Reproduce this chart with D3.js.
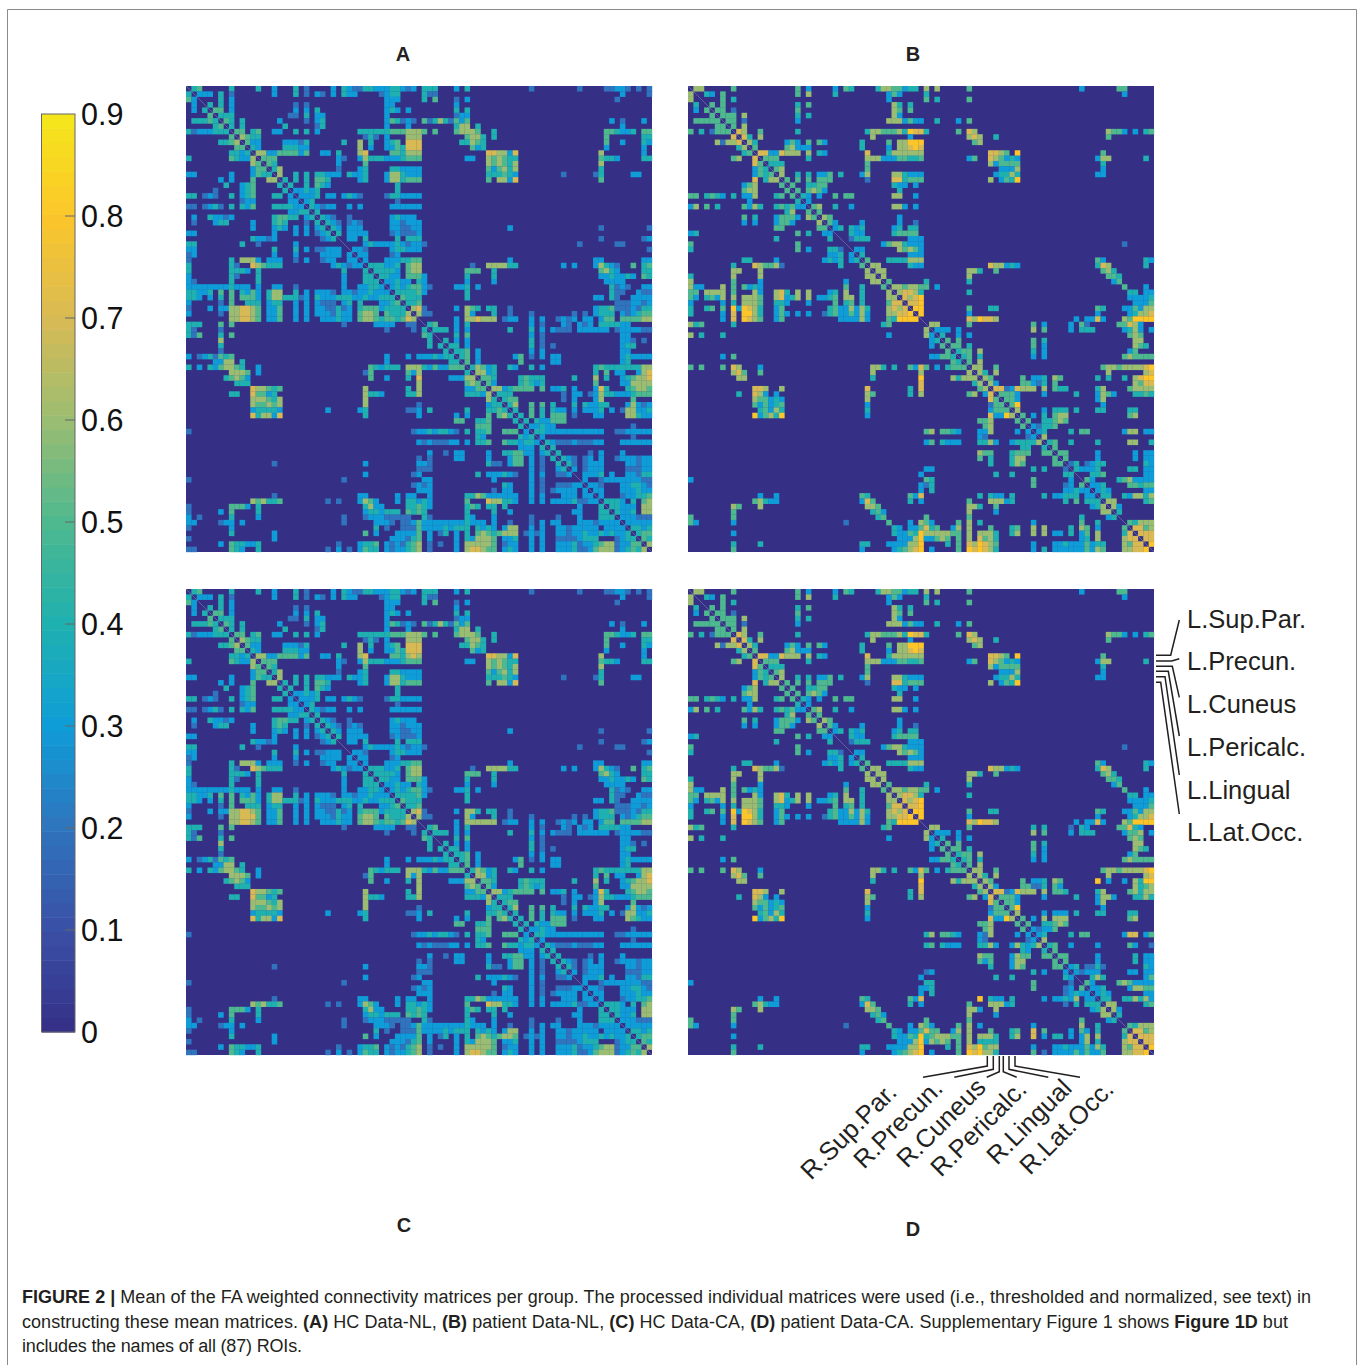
<!DOCTYPE html>
<html>
<head>
<meta charset="utf-8">
<script src="https://cdn.jsdelivr.net/npm/d3@7"></script>
<style>
body { margin: 0; background: #fff; }
text { font-family: "Liberation Sans", Arial, sans-serif; fill: #231f20; }
</style>
</head>
<body>
<svg id="fig" width="1358" height="1365"></svg>
<script>
// number of ROIs
const N = 87;

// upper triangle of the mean matrices, one string per row
// "col:digits" = run of cells starting at col, each digit is FA x 10
const rowsA = [
"1:45 8:4 13:4 16:3 20:4 22:2 27:3 29:4 30:3 31:2 32:2 33:44333 38:44 40:323 44:444 50:3 52:4 64:2 73:2 78:2233 82:2 84:2 86:2",
"2:333 6:4 8:2 16:3 20:4 22:2 24:32 27:3 29:433 36:23 38:44 44:422 81:3 86:2",
"6:4 8:3 37:333 44:4 46:5 50:2 52:3 80:2",
"4:4 6:4 8:3 20:2 22:2 37:33 50:3",
"5:55 8:3 20:3 22:3 24:4 37:3 38:4 39:3 41:3 50:4 52:4",
"6:444 19:22 22:4 24:33 37:3 50:233",
"7:54 10:4 17:3 22:2 24:34 37:35423 42:2 44:5246 48:4 49:2 50:535 79:3 81:2 85:3",
"8:4 10:4 18:4 24:24 37:3 41:3 50:466 54:4 81:3",
"9:55 12:45 16:33 20:4 22:4 24:3 32:444444555 41:666 44:5 46:5 50:56665 57:4 78:554334 85:55",
"10:65 12:44 33:242 37:3 41:666 52:5664 57:4 78:5 85:44",
"11:5 12:33 18:33324 29:4 32:6 34:4 37:3 38:45 41:777 51:44654 78:5 81:3 85:43",
"12:43 18:44433 32:6 34:3 37:3 38:354 41:777 53:534 78:3 85:3",
"13:66335555 21:3 22:5 25:33 28:4 32:67 38:554666 56:776637 77:6 85:3",
"14:555 28:32 32:3 33:64443334 41:555 52:33 56:656544 77:5443 85:44",
"15:54 28:3 33:5 56:656546 77:6",
"16:46 28:2 32:34 38:443333 56:535646 77:4",
"17:6 20:4 22:4 24:44333 30:4 31:334 37:3664333 56:444543 70:2 76:24 83:33",
"18:4 20:4 22:4 24:554 32:34 37:3 38:664555 56:5 58:6637 77:5",
"19:4 22:4 24:543 39:4",
"20:33434 39:4",
"21:3334 26:33 29:3432 37:2443333",
"22:34 39:2",
"23:43233 30:3 32:3 38:333333",
"24:4",
"25:432 30:2 38:34333",
"26:432 30:232 38:332333",
"27:43 30:333 38:332233 60:3 77:2 86:2",
"28:4 30:3333 38:232223",
"30:33 33:4 39:4 41:444 77:2 85:23",
"33:34333343233 44:2 73:2 80:22",
"31:332 38:344333 86:2",
"32:33 38:23",
"33:3 37:3334455 60:3 76:33 85:33",
"34:444334 41:566 53:2 56:666644 70:3 72:3 76:36432 83:5 85:45",
"35:44443 41:566 52:555 57:4 77:5643 85:44",
"36:4433 41:555 44:3 52:4 57:4 77:3343343 85:54",
"37:33433 43:4 44:3 52:3 57:3 78:3333",
"38:343455 44:32 50:334 54:3 79:4232 85:33",
"39:44445 44:3 52:4 79:422 84:322",
"40:5444 52:4 76:33 79:42 83:3333",
"41:445 80:2223323",
"42:67 44:2 50:3 52:654 56:44 60:2 76:34452223244",
"43:6 44:22 52:63 57:4 60:2 64:2 72:2 74:2 76:3444 81:323455",
"50:3 52:667666 59:233 64:3 66:3 69:2323 74:33 77:355 81:555566",
"45:45 50:3 52:4 64:3 66:2 70:3 71:2 73:323 77:444433",
"46:444 50:3 52:3 60:4 64:4 66:3 68:3222 73:333333 80:2333322",
"50:4 52:5 64:3 66:2 81:33",
"48:4 50:3 52:3 64:4 66:2 81:332 85:2",
"49:44 52:3 64:4 66:2 68:2 81:344",
"50:445 54:3 64:3 66:3 81:33",
"51:45 54:3 61:35 64:2 66:3 68:33 81:343333",
"52:5 54:3 62:5 68:33 81:34",
"53:46534 60:43 64:4 66:3 76:45444444466",
"54:6634 76:4 78:5 80:33 84:367",
"55:554 62:45444 72:4 76:6 78:4 81:345667",
"56:53 62:45434 76:5 81:336666",
"57:66345555 66:5 68:334 72:3 76:374 82:45665",
"58:444 70:2 72:33 75:236443334555",
"59:455 70:2 72:3 76:36 83:5",
"60:46 64:5 66:5 68:4 72:4 74:43344 82:36323",
"61:4 64:5 66:4 68:433 72:3 74:3334 79:3 81:266334",
"62:4 64:5 66:4 68:555 72:2 76:33 82:66433",
"63:4 65:4 66:33 68:555",
"64:33433 83:2",
"65:4 66:43 68:3333333333 80:2233333",
"66:3 83:2",
"67:43222322233 81:333333",
"68:4",
"69:4 75:2 77:3 81:3",
"70:432 74:23 77:3 80:2333233",
"71:42 74:2333 82:33233",
"72:3 74:2333 82:22233",
"74:3334 79:3 82:33244",
"74:3 77:2 78:333333 84:322",
"75:33 77:2 81:334432",
"76:33 81:333433",
"77:3 81:233445",
"78:4443 83:4 85:56",
"79:4433 83:3 85:66",
"80:4334 85:66",
"81:333 84:222",
"82:33333",
"83:44 85:34",
"84:455",
"85:54",
"86:6"
];

const rowsB = [
"1:66 8:5 20:5 22:3 27:3 29:54 35:466553 41:44 44:6 46:6 52:5 73:3 80:55",
"3:43 6:5 20:5 22:6 27:4 37:353 44:4 81:3",
"6:5 8:4 37:3 44:5 46:4 52:5",
"4:5 6:5 20:4 22:5 38:64 41:4",
"5:55 8:2 20:5 38:65 41:5",
"6:555 10:6 20:4 22:4 38:63",
"7:55 10:2 20:3 37:6663533 46:4 50:3 52:5",
"8:5 10:6",
"9:76 13:5 20:4 33:46655564877 44:4 50:5 52:76 78:6553 83:3 85:45",
"10:74 13:6 34:6 41:3 52:676 57:4 78:5",
"11:64 18:353 22:5 24:53 32:4 37:5 39:66888 53:56",
"12:5 18:56333 32:4 37:3 39:66787",
"13:77337666 22:6 24:43 33:7 37:4666666 56:7765 61:8 77:5",
"14:555 22:4 33:66633355445 52:35 56:765343 76:366 85:4",
"15:444 33:5 56:635555 77:4",
"16:56 33:5 58:3336 77:3",
"17:6 20:4 22:4 24:335 28:4 32:36 38:664333 57:34464 76:33",
"18:5 20:5 22:5 24:555 33:2 38:774555 56:6 58:3548",
"19:5 22:4455 38:433 42:3",
"20:5 22:5653 39:4",
"21:43 24:3 27:5 29:55 38:66 42:3",
"22:3",
"23:56 27:4 30:3 38:663 42:3",
"24:5",
"25:65 39:3",
"26:53 32:3 39:3 42:2",
"27:34 30:434 38:34 41:44",
"30:433 38:45555",
"30:2444 41:333",
"36:35664333 81:2",
"31:33 39:6565 43:3",
"32:4 41:33 43:3",
"33:5 37:4444666 76:53 85:43",
"34:66 41:433 56:766343 76:476 85:4",
"35:66 52:664 57:5 77:564",
"36:6 52:6 78:554",
"37:5 44:4 52:4 79:35",
"38:665665 44:5 46:3 81:5 85:3",
"39:67764 52:4 82:44 85:33",
"40:7678 82:33334",
"41:778 83:3335",
"42:88 52:5 56:44 76:54 81:335366",
"43:8 52:3 76:3 82:34667",
"52:768776 72:3 74:3373 81:658888",
"45:66 52:5 64:5 66:3 71:3 73:52 80:55763",
"46:333 50:3 64:6 66:5 71:3 73:444 81:3463 86:3",
"47:4 50:3 52:3 82:565",
"48:5 50:5 64:5 66:4 83:66",
"49:55 52:4 64:5 66:3 83:65 85:4",
"50:455 54:6 64:4 66:3 82:35",
"51:45 54:4 64:3 66:3 81:565555",
"52:5 54:6",
"53:66 57:5 77:5665666678",
"54:64 57:6 78:6 85:67",
"55:65 62:5 64:334 68:65 76:4 78:4 81:4 83:6788",
"56:63 62:55324 68:5 83:6577",
"57:77237666 66:6 68:544 76:46 82:56666",
"58:5553 66:3 72:4 76:3653 83:4454",
"59:553 76:36",
"60:58 77:3",
"61:6 66:3 68:444 72:4 76:44 82:44",
"62:5 64:3 66:4 68:566 82:56",
"63:5 66:44 68:565",
"64:32445",
"65:3 66:4 71:4 73:55 81:366 85:33",
"66:6",
"67:45 71:4 76:4 82:66 86:4",
"68:5",
"69:55 76:3 83:3 85:33",
"70:5 76:3 83:3 85:33",
"71:24 74:2344 85:43",
"72:4 73:3334 82:44 85:33",
"75:445 85:33",
"74:53 80:4563333",
"75:334 82:55455",
"76:343 85:33",
"77:44 81:4366 85:46",
"78:66 85:45",
"79:63",
"80:4",
"",
"82:54666",
"83:7756",
"84:777",
"85:77",
"86:8"
];

// cells where C and D read differently from A and B: [row, col, digit]
const diffC = [[41,53,6],[43,54,6],[12,42,7],[61,83,5]];
const diffD = [
[44,64,4],[44,66,4],[44,71,2],[44,73,4],[44,74,3],[44,82,7],[44,83,4],
[45,82,5],[45,83,5],[45,84,6],[54,76,8],[54,78,3],[54,81,3],[54,84,4],
[55,64,2],[55,65,2],[55,69,3],[55,84,4],[55,85,5],[55,86,6],[56,69,5],
[56,84,4],[57,78,6],[57,85,6],[60,68,3],[60,69,3],[60,70,3],[61,66,6],
[61,68,6],[61,83,6],[63,66,3],[63,67,3],[64,82,7],[64,83,7],[64,86,5],
[66,71,3],[66,76,3],[66,82,5],[66,83,3],[66,86,2],[68,83,4],[69,83,4],
[70,71,3],[70,75,2],[70,77,2],[71,72,3],[71,73,2],[71,76,3],[71,82,3],
[71,83,3],[72,76,6],[72,77,4],[72,86,5],[73,80,5],[73,81,6],[73,82,5],
[74,82,3],[74,83,6],[74,84,6],[76,82,4],[76,84,4],[76,85,6],[76,86,3]
];

const panelLabels = ["A", "B", "C", "D"];
const colorTicks = [0, 0.1, 0.2, 0.3, 0.4, 0.5, 0.6, 0.7, 0.8, 0.9];
const leftRois = ["L.Sup.Par.", "L.Precun.", "L.Cuneus", "L.Pericalc.", "L.Lingual", "L.Lat.Occ."];
const bottomRois = ["R.Sup.Par.", "R.Precun.", "R.Cuneus", "R.Pericalc.", "R.Lingual", "R.Lat.Occ."];

const SIZE = 466;
const svg = d3.select("#fig");

// frame round the figure
svg.append("path")
  .attr("d", "M7.5,1365V9.5H1356.5V1365")
  .attr("fill", "none")
  .attr("stroke", "#8a8a8a")
  .attr("stroke-width", 1);

// parula as it comes out in the printed figure
const color = d3.scaleLinear()
  .domain(colorTicks)
  .range(["#352f86", "#3a50a6", "#2f74bd", "#0f9dd8", "#1fb1b0", "#4eb88f", "#9bbd72", "#d8ba54", "#fcc62a", "#f5e71b"]);

// turn the row strings into a list of cells, both triangles
function cellsFrom(rows, diff) {
  const m = new Map();
  rows.forEach((s, r) => {
    if (!s) return;
    s.split(" ").forEach(run => {
      const [start, digits] = run.split(":");
      digits.split("").forEach((d, i) => m.set(r + "_" + (+start + i), +d / 10));
    });
  });
  diff.forEach(d => m.set(d[0] + "_" + d[1], d[2] / 10));
  const cells = [];
  m.forEach((v, k) => {
    const [r, c] = k.split("_").map(Number);
    cells.push({ r, c, v }, { r: c, c: r, v });
  });
  return cells;
}

const band = d3.scaleBand().domain(d3.range(N)).range([0, SIZE]);

const panels = [
  { x: 186, y: 86, cells: cellsFrom(rowsA, []) },
  { x: 688, y: 86, cells: cellsFrom(rowsB, []) },
  { x: 186, y: 589, cells: cellsFrom(rowsA, diffC) },
  { x: 688, y: 589, cells: cellsFrom(rowsB, diffD) }
];

panels.forEach(p => {
  const g = svg.append("g").attr("transform", `translate(${p.x},${p.y})`);
  g.append("rect")
    .attr("width", SIZE)
    .attr("height", SIZE)
    .attr("fill", color(0));
  g.selectAll(".cell")
    .data(p.cells)
    .enter()
    .append("rect")
    .attr("class", "cell")
    .attr("x", d => band(d.c))
    .attr("y", d => band(d.r))
    .attr("width", band.bandwidth() + 0.2)
    .attr("height", band.bandwidth() + 0.2)
    .attr("fill", d => color(d.v));
  // the zero diagonal prints as a faint line
  g.append("line")
    .attr("x1", band(0))
    .attr("y1", band(0))
    .attr("x2", SIZE)
    .attr("y2", SIZE)
    .attr("stroke", "#7a78b4")
    .attr("stroke-width", 0.9)
    .attr("opacity", 0.75);
});

// panel letters
const letterPos = [[403, 61], [913, 61], [404, 1232], [913, 1236]];
svg.selectAll(".letter")
  .data(panelLabels)
  .enter()
  .append("text")
  .attr("class", "letter")
  .attr("x", (d, i) => letterPos[i][0])
  .attr("y", (d, i) => letterPos[i][1])
  .attr("text-anchor", "middle")
  .style("font-size", "20px")
  .style("font-weight", "bold")
  .text(d => d);

// colour bar, 64 steps like the matlab colormap
const barY = d3.scaleLinear().domain([0, 0.9]).range([1032, 114]);
const steps = d3.range(64).map(i => i / 64 * 0.9);
const bar = svg.append("g");
bar.selectAll("rect")
  .data(steps)
  .enter()
  .append("rect")
  .attr("x", 42)
  .attr("width", 33)
  .attr("y", d => barY(d + 0.9 / 64))
  .attr("height", 918 / 64 + 0.5)
  .attr("fill", d => color(d + 0.9 / 128));
bar.append("rect")
  .attr("x", 41.5)
  .attr("y", 114)
  .attr("width", 33.5)
  .attr("height", 918)
  .attr("fill", "none")
  .attr("stroke", "#666")
  .attr("stroke-width", 1);
bar.selectAll(".tick")
  .data(colorTicks.slice(1, -1))
  .enter()
  .append("line")
  .attr("class", "tick")
  .attr("x1", 65)
  .attr("x2", 75)
  .attr("y1", d => barY(d))
  .attr("y2", d => barY(d))
  .attr("stroke", "#666");
bar.selectAll(".lab")
  .data(colorTicks)
  .enter()
  .append("text")
  .attr("class", "lab")
  .attr("x", 81)
  .attr("y", d => barY(d) + 11)
  .style("font-size", "30.5px")
  .style("fill", "#111")
  .text(d => d);

// ROI labels right of panel D
const leftY = [628, 670, 713, 756, 799, 841];
svg.selectAll(".lroi")
  .data(leftRois)
  .enter()
  .append("text")
  .attr("class", "lroi")
  .attr("x", 1187)
  .attr("y", (d, i) => leftY[i])
  .style("font-size", "25.5px")
  .text(d => d);

const leftLeaders = [
  [[1156, 655.3], [1170.7, 655.3], [1179.3, 620]],
  [[1156, 661], [1171.7, 661], [1179.3, 658.7]],
  [[1156, 666.3], [1172.3, 666.3], [1179.3, 697.3]],
  [[1156, 671.3], [1168.3, 671.3], [1179.3, 736]],
  [[1156, 676.7], [1165, 676.7], [1179.3, 775]],
  [[1156, 682.3], [1160.7, 682.3], [1179.3, 814]]
];

// ROI labels under panel D
const bottomPos = [[811, 1181], [864, 1170], [907, 1169], [941, 1178], [997, 1166], [1030, 1176]];
svg.selectAll(".broi")
  .data(bottomRois)
  .enter()
  .append("text")
  .attr("class", "broi")
  .attr("transform", (d, i) => `translate(${bottomPos[i][0]},${bottomPos[i][1]}) rotate(-45)`)
  .style("font-size", "25.5px")
  .text(d => d);

const bottomLeaders = [
  [[987.3, 1056], [987.3, 1066], [923, 1077.3]],
  [[993.3, 1056], [993.3, 1069.3], [954.3, 1077.3]],
  [[999.3, 1056], [999.3, 1071.7], [986.7, 1077.3]],
  [[1003.3, 1056], [1003.3, 1071.7], [1016.7, 1077.3]],
  [[1009, 1056], [1009, 1069.3], [1048.3, 1077.3]],
  [[1015, 1056], [1015, 1066], [1080, 1077.3]]
];

svg.selectAll(".leader")
  .data(leftLeaders.concat(bottomLeaders))
  .enter()
  .append("path")
  .attr("class", "leader")
  .attr("d", d3.line())
  .attr("fill", "none")
  .attr("stroke", "#231f20")
  .attr("stroke-width", 1.5);

// caption, bold runs flagged with 1
const captionLines = [
  { y: 1303, w: 1289, parts: [["FIGURE 2 |", 1], [" Mean of the FA weighted connectivity matrices per group. The processed individual matrices were used (i.e., thresholded and normalized, see text) in", 0]] },
  { y: 1328, w: 1266, parts: [["constructing these mean matrices. ", 0], ["(A)", 1], [" HC Data-NL, ", 0], ["(B)", 1], [" patient Data-NL, ", 0], ["(C)", 1], [" HC Data-CA, ", 0], ["(D)", 1], [" patient Data-CA. Supplementary Figure 1 shows ", 0], ["Figure 1D", 1], [" but", 0]] },
  { y: 1352, w: 280, parts: [["includes the names of all (87) ROIs.", 0]] }
];
captionLines.forEach(l => {
  const t = svg.append("text")
    .attr("x", 22)
    .attr("y", l.y)
    .attr("textLength", l.w)
    .attr("lengthAdjust", "spacing")
    .attr("xml:space", "preserve")
    .style("white-space", "pre")
    .style("font-size", "18px");
  l.parts.forEach(p => {
    t.append("tspan")
      .style("font-weight", p[1] ? "bold" : "normal")
      .text(p[0]);
  });
});
</script>
</body>
</html>
